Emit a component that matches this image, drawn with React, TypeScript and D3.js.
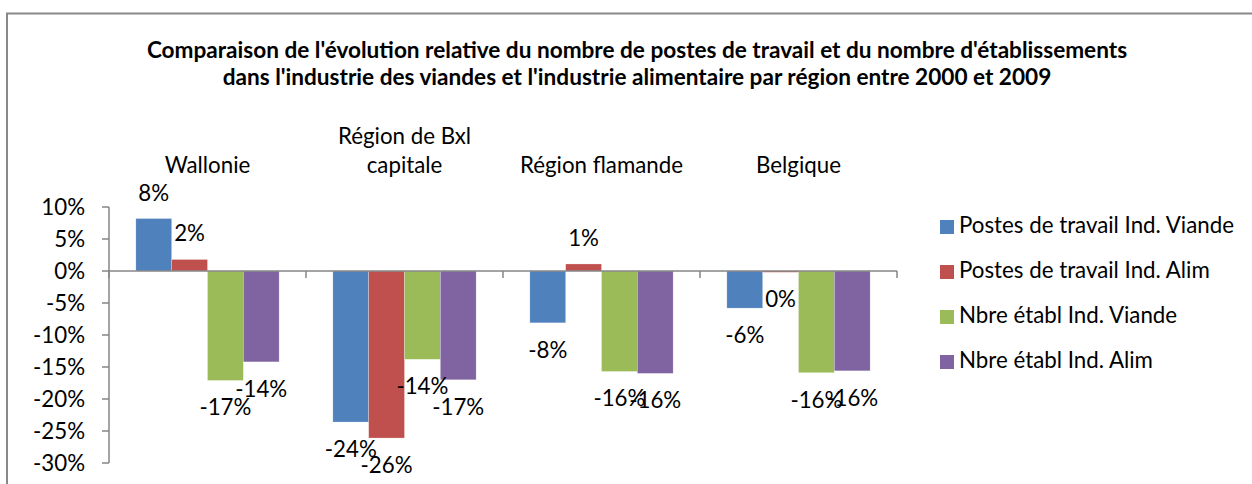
import React from "react";
import * as d3 from "d3";

const categories = ["Wallonie", "Région de Bxl|capitale", "Région flamande", "Belgique"];
const seriesNames = [
  "Postes de travail Ind. Viande",
  "Postes de travail Ind. Alim",
  "Nbre établ Ind. Viande",
  "Nbre établ Ind. Alim",
];
const postesViande = [8.2, -23.6, -8.1, -5.8];
const postesAlim = [1.8, -26.1, 1.1, -0.2];
const etablViande = [-17.1, -13.8, -15.7, -15.9];
const etablAlim = [-14.2, -17.0, -16.0, -15.6];
const seriesValues = [postesViande, postesAlim, etablViande, etablAlim];
const colors = ["#4F81BD", "#C0504D", "#9BBB59", "#8064A2"];
const yTicks = [10, 5, 0, -5, -10, -15, -20, -25, -30];
const titleLines = [
  "Comparaison de l'évolution relative du nombre de postes de travail et du nombre d'établissements",
  "dans l'industrie des viandes et l'industrie alimentaire par région entre 2000 et 2009",
];

const W = 1252;
const H = 484;
const FONT = "Lato, 'Open Sans', sans-serif";
const AXIS = "#868686";
const FS = 22.3;

export default function App() {
  const x0 = d3.scaleBand<string>().domain(categories).range([109, 897]).paddingInner(0).paddingOuter(0);
  const x1 = d3
    .scaleBand<string>()
    .domain(seriesNames)
    .range([0, x0.bandwidth()])
    .paddingInner(0)
    .paddingOuter(0.75);
  const y = d3.scaleLinear().domain([-30, 10]).range([463, 207]);
  const fmt = (v: number) => {
    const r = Math.round(v);
    return (r === 0 ? 0 : r) + "%";
  };

  return (
    <div style={{ position: "fixed", left: 0, top: 0, width: W, height: H, background: "#fff" }}>
      <svg width={W} height={H} style={{ display: "block" }} fontFamily={FONT}>
        <rect x={0} y={0} width={W} height={H} fill="#fff" />
        <rect x={7} y={13.5} width={W + 20} height={H + 20} fill="none" stroke="#888" strokeWidth={2} />
        {titleLines.map((t, i) => (
          <text key={i} x={637} y={58 + i * 27} textAnchor="middle" fontWeight="bold" fontSize={22.6} fill="#000">
            {t}
          </text>
        ))}
        {/* category labels */}
        {categories.map((c) => {
          const lines = c.split("|");
          const cx = (x0(c) as number) + x0.bandwidth() / 2;
          return (
            <text key={c} x={cx} textAnchor="middle" fontSize={FS} fill="#000">
              {lines.map((l, i) => (
                <tspan key={i} x={cx} y={173 - (lines.length - 1 - i) * 29}>
                  {l}
                </tspan>
              ))}
            </text>
          );
        })}
        {/* y axis */}
        <line x1={109} x2={109} y1={y(10)} y2={y(-30)} stroke={AXIS} strokeWidth={1.5} />
        {yTicks.map((t) => (
          <g key={t}>
            <line x1={102} x2={109} y1={y(t)} y2={y(t)} stroke={AXIS} strokeWidth={1.5} />
            <text x={85} y={y(t) + 7.5} textAnchor="end" fontSize={FS} fill="#000">
              {t}%
            </text>
          </g>
        ))}
        {/* bars */}
        {categories.map((c) =>
          seriesNames.map((s, si) => {
            const v = seriesValues[si][categories.indexOf(c)];
            const bx = (x0(c) as number) + (x1(s) as number);
            const top = Math.min(y(v), y(0));
            const h = Math.abs(y(v) - y(0));
            return (
              <rect key={c + s} x={bx} y={top} width={x1.bandwidth()} height={h} fill={colors[si]} stroke="#fff" strokeOpacity={0.5} strokeWidth={0.5} />
            );
          })
        )}
        {/* zero axis */}
        <line x1={109} x2={897} y1={y(0)} y2={y(0)} stroke={AXIS} strokeWidth={1.5} />
        {[...categories.map((c) => (x0(c) as number) + x0.bandwidth()), 109].map((bx, i) => (
          <line key={i} x1={bx} x2={bx} y1={y(0)} y2={y(0) + 7} stroke={AXIS} strokeWidth={1.5} />
        ))}
        {/* data labels */}
        {categories.map((c) =>
          seriesNames.map((s, si) => {
            const v = seriesValues[si][categories.indexOf(c)];
            const cx = (x0(c) as number) + (x1(s) as number) + x1.bandwidth() / 2;
            const ly = v >= 0 ? y(v) - 18 : y(v) + 35;
            return (
              <text key={"l" + c + s} x={cx} y={ly} textAnchor="middle" fontSize={FS} fill="#000">
                {fmt(v)}
              </text>
            );
          })
        )}
        {/* legend */}
        {seriesNames.map((s, i) => (
          <g key={s}>
            <rect x={940} y={220 + i * 45} width={14} height={14} fill={colors[i]} />
            <text x={959} y={233 + i * 45} fontSize={FS} fill="#000">
              {s}
            </text>
          </g>
        ))}
      </svg>
    </div>
  );
}
